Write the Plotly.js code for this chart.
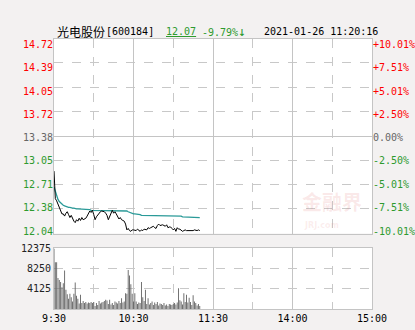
<!DOCTYPE html>
<html><head><meta charset="utf-8">
<script src="https://cdn.plot.ly/plotly-3.0.1.min.js"></script>
<style>html,body{margin:0;padding:0;background:#f3f1f1;}#chart{width:415px;height:330px;}</style>
</head><body><div id="chart"></div>
<script>
// ---- data ----
const price = [
 12.90,12.52,12.49,12.45,12.39,12.35,12.31,12.31,12.28,12.32,
 12.34,12.30,12.26,12.29,12.24,12.21,12.19,12.23,12.21,12.25,
 12.22,12.26,12.23,12.24,12.25,12.28,12.32,12.35,12.33,12.36,
 12.30,12.23,12.27,12.30,12.31,12.34,12.35,12.35,12.34,12.32,
 12.29,12.23,12.28,12.33,12.36,12.32,12.34,12.31,12.27,12.24,
 12.26,12.23,12.22,12.21,12.17,12.09,12.11,12.08,12.07,12.09,
 12.09,12.09,12.08,12.10,12.09,12.07,12.09,12.08,12.10,12.10,
 12.09,12.12,12.11,12.12,12.13,12.14,12.12,12.11,12.15,12.17,
 12.15,12.16,12.16,12.15,12.14,12.16,12.12,12.13,12.13,12.11,
 12.09,12.11,12.07,12.12,12.10,12.10,12.09,12.07,12.08,12.09,
 12.08,12.08,12.07,12.08,12.07,12.08,12.09,12.08,12.08,12.09,12.08];
const avgPrice = [
 12.68,12.61,12.55,12.51,12.48,12.46,12.44,12.43,12.42,12.41,
 12.41,12.40,12.40,12.39,12.39,12.39,12.38,12.38,12.38,12.38,
 12.37,12.37,12.37,12.37,12.37,12.37,12.37,12.37,12.36,12.36,
 12.36,12.36,12.36,12.36,12.36,12.36,12.36,12.36,12.36,12.36,
 12.36,12.36,12.36,12.36,12.36,12.36,12.36,12.36,12.36,12.36,
 12.36,12.36,12.36,12.36,12.35,12.35,12.34,12.33,12.32,12.32,
 12.31,12.31,12.31,12.31,12.30,12.30,12.29,12.29,12.29,12.29,
 12.28,12.28,12.28,12.28,12.28,12.28,12.28,12.28,12.28,12.28,
 12.28,12.28,12.28,12.28,12.28,12.28,12.28,12.28,12.28,12.28,
 12.28,12.28,12.28,12.28,12.28,12.28,12.28,12.27,12.27,12.27,
 12.27,12.27,12.27,12.26,12.26,12.26,12.26,12.26,12.26,12.26,12.26];
const volume = [
 12200,9500,9500,6300,5900,5500,4400,5200,7800,3900,
 3000,2100,3100,2400,1500,3100,5400,2700,2100,1100,
 2900,1200,1600,1200,1400,1100,1300,1200,1400,1200,
 1400,600,1200,800,1600,1100,1300,1400,1600,1900,
 1700,1000,1900,900,1200,800,1500,1300,1100,1600,
 1200,2200,1300,1500,3200,3100,7900,6800,5000,3100,
 1500,3200,1500,1000,1300,1200,5500,2400,1600,3900,
 1000,2200,900,1200,1500,800,1300,1000,1400,700,
 1100,1000,800,1200,700,900,600,1000,900,800,
 1000,1200,900,1300,4200,1800,1500,900,3200,1400,
 2900,1300,2300,1400,800,2800,1500,1200,700,1000,600];
const priceTicks = [14.72,14.39,14.05,13.72,13.38,13.05,12.71,12.38,12.04];
const pctLabels = ['+10.01%','+7.51%','+5.01%','+2.50%','0.00%','-2.50%','-5.01%','-7.51%','-10.01%'];
const volTicks = [4125,8250,12375];
const timeTicks = [0,60,120,180,240];
const timeLabels = ['9:30','10:30','11:30','14:00','15:00'];
const prevClose = 13.38;
const minutes = price.map((_, i) => i);

const RED = '#ff0000', GREEN = '#2e9a2e', GREY = '#666666';
const colorFor = v => v > prevClose ? RED : (v < prevClose ? GREEN : GREY);
const leftText = priceTicks.map(v => `<span style="color:${colorFor(v)}">${v.toFixed(2)}</span>`);
const rightText = pctLabels.map((t, i) => `<span style="color:${colorFor(priceTicks[i])}">${t}</span>`);

const MONO = 'DejaVu Sans Mono';
const GRID = '#c8c8c8', LINE = '#c4c4c4';
const ghost = (xa, ya) => ({x: minutes, y: price, type: 'scatter', mode: 'lines', line: {color: 'rgba(0,0,0,0)', width: 0},
                            xaxis: xa, yaxis: ya, hoverinfo: 'skip'});

const traces = [
  ghost('x3', 'y3'), ghost('x', 'y4'), ghost('x', 'y2'),
  {x: minutes, y: volume, type: 'bar', marker: {color: 'rgba(0,0,0,0)'}, xaxis: 'x4', yaxis: 'y5', hoverinfo: 'skip'},
  {x: minutes, y: avgPrice, type: 'scatter', mode: 'lines', line: {color: '#2a9a98', width: 1.3}, xaxis: 'x', yaxis: 'y'},
  {x: minutes, y: price, type: 'scatter', mode: 'lines', line: {color: '#000000', width: 1}, xaxis: 'x', yaxis: 'y'},
  {x: minutes, y: volume, type: 'bar', marker: {color: '#666666', line: {width: 0}}, xaxis: 'x2', yaxis: 'y5'}
];

const priceDom = [0.2796, 1], volDom = [0, 0.2259];
const labRange = [12.004, 14.806];

const layout = {
  width: 415, height: 330,
  margin: {l: 54, r: 43, t: 39, b: 21},
  paper_bgcolor: '#f3f1f1', plot_bgcolor: '#ffffff',
  showlegend: false, bargap: 0.3,
  font: {family: MONO, size: 10, color: '#000'},
  xaxis: {domain: [0, 1], range: [0, 240], anchor: 'y', tickvals: [30, 90, 150, 210], showticklabels: false, ticks: '',
          showgrid: true, gridcolor: GRID, griddash: 'dash', gridwidth: 1, zeroline: false,
          showline: true, mirror: true, linecolor: LINE, linewidth: 1},
  xaxis3: {overlaying: 'x', anchor: 'y3', range: [0, 240], tickvals: [60, 120, 180], showticklabels: false, ticks: '',
          showgrid: true, gridcolor: LINE, gridwidth: 1, zeroline: false, showline: false},
  xaxis2: {domain: [0, 1], range: [0, 240], anchor: 'y5', tickvals: timeTicks, ticktext: timeLabels, ticks: '',
          tickfont: {family: MONO, size: 10, color: '#000'},
          showgrid: true, gridcolor: LINE, gridwidth: 1, zeroline: false,
          showline: true, mirror: true, linecolor: LINE, linewidth: 1},
  xaxis4: {overlaying: 'x2', anchor: 'y5', range: [0, 240], tickvals: [30, 90, 150, 210], showticklabels: false, ticks: '',
          showgrid: true, gridcolor: GRID, griddash: 'dash', gridwidth: 1, zeroline: false, showline: false},
  yaxis: {domain: priceDom, range: [12.04, 14.72], anchor: 'x', tickvals: priceTicks, showticklabels: false, ticks: '',
          showgrid: true, gridcolor: GRID, griddash: 'dash', gridwidth: 1, zeroline: false,
          showline: true, mirror: true, linecolor: LINE, linewidth: 1},
  yaxis3: {overlaying: 'y', anchor: 'x3', range: [12.04, 14.72], tickvals: [prevClose], showticklabels: false, ticks: '',
          showgrid: true, gridcolor: LINE, gridwidth: 1, zeroline: false, showline: false},
  yaxis4: {overlaying: 'y', anchor: 'x', side: 'left', range: labRange, tickvals: priceTicks, ticktext: leftText, ticks: '',
          tickfont: {family: MONO, size: 10}, showgrid: false, zeroline: false, showline: false},
  yaxis2: {overlaying: 'y', anchor: 'x', side: 'right', range: labRange, tickvals: priceTicks, ticktext: rightText, ticks: '',
          tickfont: {family: MONO, size: 10}, showgrid: false, zeroline: false, showline: false},
  yaxis5: {domain: volDom, range: [0, 12375], anchor: 'x2', tickvals: volTicks, ticktext: volTicks.map(String), ticks: '',
          tickfont: {family: MONO, size: 10, color: '#222'},
          showgrid: true, gridcolor: GRID, griddash: 'dash', gridwidth: 1, zeroline: false,
          showline: true, mirror: true, linecolor: LINE, linewidth: 1},
  annotations: [
    {xref: 'paper', yref: 'paper', x: 0.003, y: 1.0296, xanchor: 'left', yanchor: 'middle', showarrow: false,
     text: '光电股份', font: {family: 'Noto Sans CJK SC', size: 12, color: '#000'}},
    {xref: 'paper', yref: 'paper', x: 0.157, y: 1.0296, xanchor: 'left', yanchor: 'middle', showarrow: false,
     text: '[600184]', font: {family: MONO, size: 10, color: '#000'}},
    {xref: 'paper', yref: 'paper', x: 0.346, y: 1.0296, xanchor: 'left', yanchor: 'middle', showarrow: false,
     text: '<u>12.07</u>', font: {family: MONO, size: 10, color: GREEN}},
    {xref: 'paper', yref: 'paper', x: 0.459, y: 1.0296, xanchor: 'left', yanchor: 'middle', showarrow: false,
     text: '-9.79%<span style="font-size:13px">↓</span>', font: {family: MONO, size: 10, color: GREEN}},
    {xref: 'paper', yref: 'paper', x: 0.654, y: 1.0296, xanchor: 'left', yanchor: 'middle', showarrow: false,
     text: '2021-01-26 11:20:16', font: {family: MONO, size: 10, color: '#000'}},
    {xref: 'paper', yref: 'paper', x: 0.875, y: 0.40, xanchor: 'center', yanchor: 'middle', showarrow: false,
     text: '<b>金融界</b>', font: {family: 'Noto Sans CJK SC', size: 20, color: 'rgba(225,120,120,0.16)'}},
    {xref: 'paper', yref: 'paper', x: 0.84, y: 0.31, xanchor: 'center', yanchor: 'middle', showarrow: false,
     text: '<b>JRJ.com</b>', font: {family: 'DejaVu Sans', size: 8, color: 'rgba(225,120,120,0.14)'}}
  ]
};

Plotly.newPlot('chart', traces, layout, {staticPlot: true, displayModeBar: false});
</script>
</body></html>
